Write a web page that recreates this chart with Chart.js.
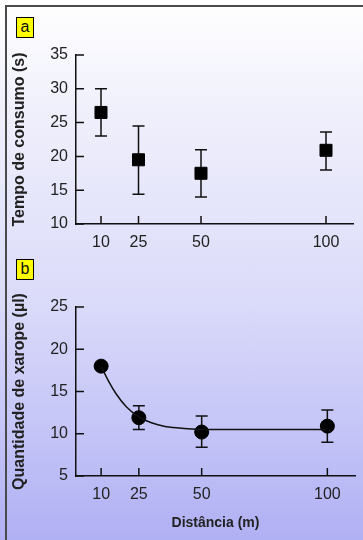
<!DOCTYPE html>
<html>
<head>
<meta charset="utf-8">
<script src="https://cdn.jsdelivr.net/npm/chart.js@4"></script>
<style>
  html, body { margin: 0; padding: 0; }
  body { width: 363px; height: 540px; overflow: hidden; position: relative;
         background: linear-gradient(to bottom, #ffffff 0%, #f0f0fc 20%, #dcdcfa 54%, #c8c8f8 76%, #b0b0f4 100%);
         font-family: "Liberation Sans", Arial, sans-serif; }
  .frame { position: absolute; left: 5px; top: 5px; right: -5px; bottom: -5px; border-top: 2px solid #4a4a4a; border-left: 2px solid #4a4a4a; }
  .tag { position: absolute; left: 16px; width: 16px; height: 19px; background: #ffff00; border: 1px solid #000;
         font-size: 16px; line-height: 18px; text-align: center; color: #111; }
  canvas { position: absolute; left: 0; }
  #wrapA { position: absolute; left: 0; top: 0; width: 363px; height: 260px; }
  #wrapB { position: absolute; left: 0; top: 260px; width: 363px; height: 280px; }
</style>
</head>
<body>
<div class="frame"></div>
<div id="wrapA"><canvas id="chartA"></canvas></div>
<div id="wrapB"><canvas id="chartB"></canvas></div>
<div class="tag" style="top:17px">a</div>
<div class="tag" style="top:259px">b</div>
<script>
const distancias = [10, 25, 50, 100];
const tempoMedia = [26.5, 19.5, 17.5, 20.9];
const tempoMin = [23.0, 14.4, 14.0, 18.0];
const tempoMax = [30.0, 24.5, 21.0, 23.6];
const xaropeMedia = [18.0, 11.9, 10.2, 10.9];
const xaropeMin = [18.0, 10.5, 8.4, 9.0];
const xaropeMax = [18.0, 13.3, 12.1, 12.8];
const curvaX = [10, 13, 16, 20, 25, 30, 35, 40, 50, 60, 80, 100];
const curvaY = [18.0, 16.2, 14.7, 13.2, 12.0, 11.3, 10.9, 10.7, 10.5, 10.5, 10.5, 10.5];

const tickFont = { family: "'Liberation Sans', Arial, sans-serif", size: 16 };
const yTitleFont = { family: "'Liberation Sans', Arial, sans-serif", size: 16, weight: "bold" };
const xTitleFont = { family: "'Liberation Sans', Arial, sans-serif", size: 14, weight: "bold" };

function pts(xs, ys) { return xs.map((x, i) => ({ x: x, y: ys[i] })); }

// error bars drawn through the chart scales
const errorBars = {
  id: "errorBars",
  beforeDatasetsDraw(chart, args, opts) {
    const ctx = chart.ctx, xs = chart.scales.x, ys = chart.scales.y;
    ctx.save();
    ctx.strokeStyle = "#111";
    ctx.lineWidth = 1.5;
    distancias.forEach((d, i) => {
      if (opts.max[i] === opts.min[i]) return;
      const px = xs.getPixelForValue(d);
      const top = ys.getPixelForValue(opts.max[i]);
      const bot = ys.getPixelForValue(opts.min[i]);
      ctx.beginPath();
      ctx.moveTo(px, top); ctx.lineTo(px, bot);
      ctx.moveTo(px - 6, top); ctx.lineTo(px + 6, top);
      ctx.moveTo(px - 6, bot); ctx.lineTo(px + 6, bot);
      ctx.stroke();
    });
    ctx.restore();
  }
};

// tick marks pointing inward
const inTicks = {
  id: "inTicks",
  afterDraw(chart) {
    const ctx = chart.ctx, a = chart.chartArea;
    ctx.save();
    ctx.strokeStyle = "#111";
    ctx.lineWidth = 1.5;
    ctx.beginPath();
    chart.scales.y.ticks.forEach(t => {
      const py = chart.scales.y.getPixelForValue(t.value);
      ctx.moveTo(a.left, py); ctx.lineTo(a.left + 8, py);
    });
    chart.scales.x.ticks.forEach(t => {
      const px = chart.scales.x.getPixelForValue(t.value);
      ctx.moveTo(px, a.bottom); ctx.lineTo(px, a.bottom - 8);
    });
    ctx.stroke();
    ctx.restore();
  }
};

function makeScales(yMin, yMax, yTitle, xTitle, xHeight) {
  return {
    x: {
      type: "linear", min: 0, max: 111,
      afterBuildTicks: s => { s.ticks = distancias.map(v => ({ value: v })); },
      afterFit: s => { s.height = xHeight; },
      grid: { display: false },
      border: { display: true, color: "#111", width: 1.5 },
      ticks: { font: tickFont, color: "#222", padding: 1 },
      title: { display: !!xTitle, text: xTitle, font: xTitleFont, color: "#222", padding: { top: 0, bottom: 8 } }
    },
    y: {
      min: yMin, max: yMax,
      afterFit: s => { s.width = 76; },
      grid: { display: false },
      border: { display: true, color: "#111", width: 1.5 },
      ticks: { stepSize: 5, font: tickFont, color: "#222", padding: 0 },
      title: { display: true, text: yTitle, font: yTitleFont, color: "#222", padding: { top: 10, bottom: 0 } }
    }
  };
}

new Chart(document.getElementById("chartA"), {
  type: "scatter",
  data: {
    datasets: [{
      data: pts(distancias, tempoMedia),
      pointStyle: "rect", pointRadius: 8.5, pointHoverRadius: 8.5,
      backgroundColor: "#000", borderColor: "#000"
    }]
  },
  options: {
    responsive: true, maintainAspectRatio: false, animation: false,
    layout: { padding: { top: 55, right: 5, left: 0, bottom: 0 } },
    plugins: { legend: { display: false }, tooltip: { enabled: false },
               errorBars: { min: tempoMin, max: tempoMax } },
    scales: makeScales(10, 35, "Tempo de consumo (s)", "", 36)
  },
  plugins: [errorBars, inTicks]
});

new Chart(document.getElementById("chartB"), {
  type: "scatter",
  data: {
    datasets: [{
      type: "line",
      data: pts(curvaX, curvaY),
      borderColor: "#111", borderWidth: 1.5, pointRadius: 0,
      cubicInterpolationMode: "monotone", fill: false
    }, {
      data: pts(distancias, xaropeMedia),
      pointStyle: "circle", pointRadius: 7, pointHoverRadius: 7,
      backgroundColor: "#000", borderColor: "#000"
    }]
  },
  options: {
    responsive: true, maintainAspectRatio: false, animation: false,
    layout: { padding: { top: 47, right: 5, left: 0, bottom: 0 } },
    plugins: { legend: { display: false }, tooltip: { enabled: false },
               errorBars: { min: xaropeMin, max: xaropeMax } },
    scales: makeScales(5, 25, "Quantidade de xarope (µl)", "Distância (m)", 64)
  },
  plugins: [errorBars, inTicks]
});
</script>
</body>
</html>
